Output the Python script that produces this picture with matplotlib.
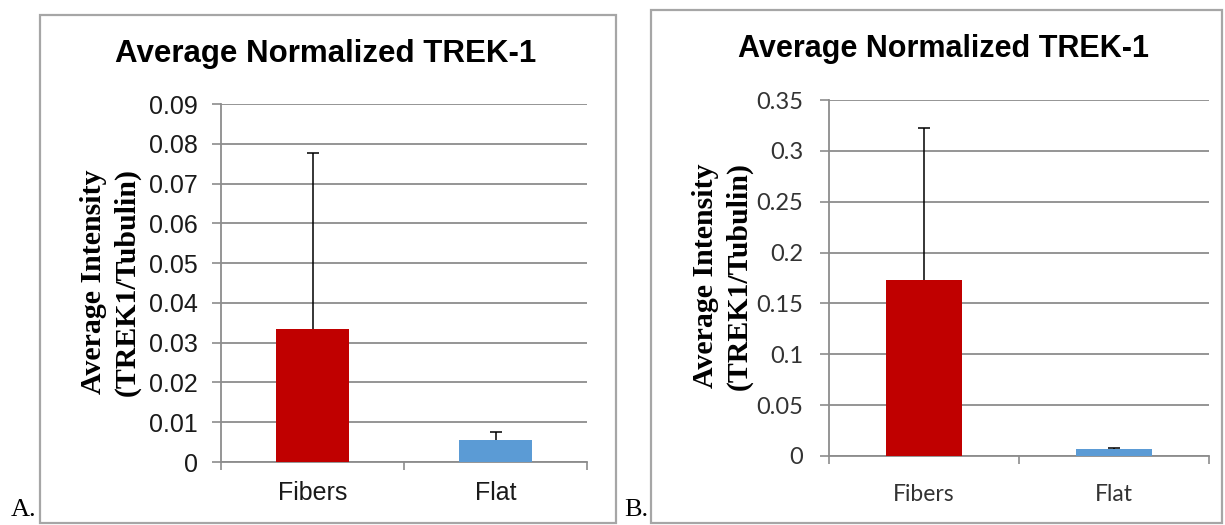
import matplotlib
matplotlib.use("Agg")
import matplotlib.pyplot as plt
from matplotlib.patches import Rectangle
from matplotlib.ticker import FixedLocator, NullFormatter

# ---- data ----
categories = ["Fibers", "Flat"]
means_A = [0.0335, 0.0056]
err_A = [0.0443, 0.0019]
ticks_A = [0, 0.01, 0.02, 0.03, 0.04, 0.05, 0.06, 0.07, 0.08, 0.09]
ticklabels_A = ["0", "0.01", "0.02", "0.03", "0.04", "0.05", "0.06", "0.07", "0.08", "0.09"]

means_B = [0.1735, 0.0067]
err_B = [0.149, 0.0013]
ticks_B = [0, 0.05, 0.1, 0.15, 0.2, 0.25, 0.3, 0.35]
ticklabels_B = ["0", "0.05", "0.1", "0.15", "0.2", "0.25", "0.3", "0.35"]

bar_colors = ["#C00000", "#5B9BD5"]
title = "Average Normalized TREK-1"
ylabel = "Average Intensity\n(TREK1/Tubulin)"

W, H = 1225, 525
fig = plt.figure(figsize=(W / 100, H / 100), dpi=100)
fig.patch.set_facecolor("white")

def px(x0, y_top, x1, y_bot):
    return [x0 / W, 1 - y_bot / H, (x1 - x0) / W, (y_bot - y_top) / H]

grid_col = "#8C8C8C"

def panel(rect, means, errs, ticks, ticklabels, ymax, tickfont, tickcolor, tfs, xfs, ypad, xpad):
    ax = fig.add_axes(rect)
    x = list(range(len(categories)))
    ax.bar(x, means, width=0.4, color=bar_colors, zorder=3)
    _, caplines, _ = ax.errorbar(x, means, yerr=[[0] * len(errs), errs], fmt="none",
                                 ecolor="black", elinewidth=1.1, capsize=4.5,
                                 capthick=1.1, zorder=4)
    # hide the lower caps (only upper error is shown)
    if len(caplines) == 2:
        caplines[0].set_visible(False)
    ax.set_xlim(-0.5, len(categories) - 0.5)
    ax.set_ylim(0, ymax)
    ax.set_yticks(ticks)
    ax.set_yticklabels(ticklabels, fontfamily=tickfont, fontsize=tfs, color=tickcolor)
    ax.set_xticks(x)
    ax.set_xticklabels(categories, fontfamily=tickfont, fontsize=xfs, color=tickcolor)
    ax.xaxis.set_minor_locator(FixedLocator([-0.5, 0.5, 1.5]))
    ax.xaxis.set_minor_formatter(NullFormatter())
    ax.tick_params(axis="x", which="major", length=0, pad=xpad)
    ax.tick_params(axis="x", which="minor", length=6, width=1.2, color=grid_col, direction="out")
    ax.tick_params(axis="y", which="major", length=6.5, width=1.2, color=grid_col, direction="out", pad=ypad)
    ax.grid(axis="y", color=grid_col, linewidth=1.3, zorder=0)
    ax.set_axisbelow(True)
    for s in ["top", "right"]:
        ax.spines[s].set_visible(False)
    for s in ["left", "bottom"]:
        ax.spines[s].set_color(grid_col)
        ax.spines[s].set_linewidth(1.3)
    return ax

axA = panel(px(221, 104, 587, 462), means_A, err_A, ticks_A, ticklabels_A, 0.09,
            "Liberation Sans", "#1a1a1a", 18, 18, 10, 14)
axB = panel(px(829, 100, 1209, 456), means_B, err_B, ticks_B, ticklabels_B, 0.35,
            "Lato", "#333333", 17, 16.5, 12, 20)

# frames
for (x0, y0, x1, y1) in [(40, 15, 616, 523), (651, 10, 1222, 523)]:
    fig.add_artist(Rectangle((x0 / W, 1 - y1 / H), (x1 - x0) / W, (y1 - y0) / H,
                             transform=fig.transFigure, fill=False,
                             edgecolor="#A6A6A6", linewidth=1.6))

# titles
fig.text(326 / W, 1 - 54 / H, title, ha="center", va="center",
         fontfamily="Liberation Sans", fontweight="bold", fontsize=22.5)
fig.text(943.5 / W, 1 - 49 / H, title, ha="center", va="center",
         fontfamily="Liberation Sans", fontweight="bold", fontsize=22)

# y labels
fig.text(110 / W, 1 - 282 / H, ylabel, ha="center", va="center", rotation=90,
         fontfamily="Liberation Serif", fontweight="bold", fontsize=21.5, linespacing=1.3,
         multialignment="center")
fig.text(722 / W, 1 - 276 / H, ylabel, ha="center", va="center", rotation=90,
         fontfamily="Liberation Serif", fontweight="bold", fontsize=21.5, linespacing=1.3,
         multialignment="center")

# panel letters
fig.text(11 / W, 4 / H, "A.", ha="left", va="bottom",
         fontfamily="Liberation Serif", fontsize=19)
fig.text(624 / W, 4 / H, "B.", ha="left", va="bottom",
         fontfamily="Liberation Serif", fontsize=19)

fig.savefig("out.png", dpi=100, facecolor="white")
